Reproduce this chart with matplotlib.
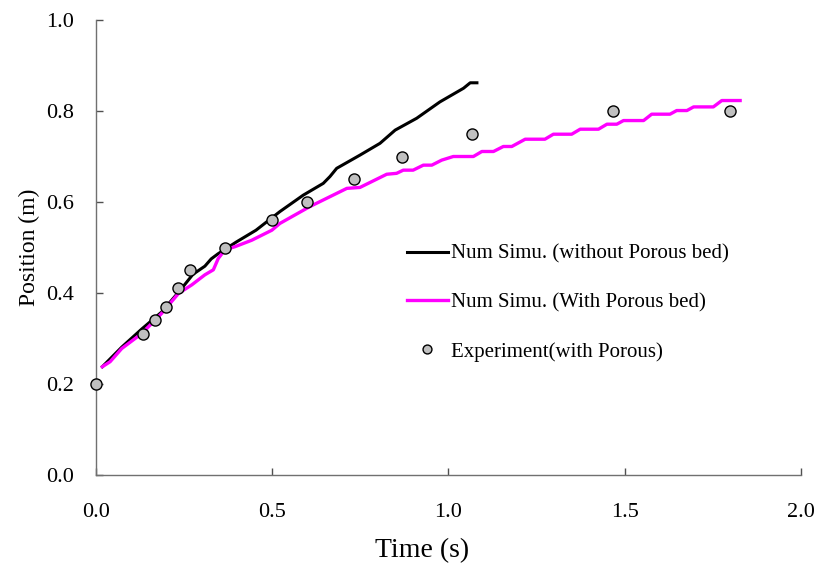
import matplotlib
matplotlib.use("Agg")
import matplotlib.pyplot as plt

# Numerical simulation without porous bed
t_no_bed = [0.018, 0.073, 0.130, 0.186, 0.242, 0.275, 0.309, 0.327, 0.346, 0.398,
            0.454, 0.522, 0.588, 0.645, 0.664, 0.683, 0.749, 0.806, 0.849, 0.91,
            0.976, 1.043, 1.062, 1.081]
x_no_bed = [0.238, 0.281, 0.321, 0.358, 0.409, 0.441, 0.459, 0.475, 0.486, 0.512,
            0.538, 0.579, 0.615, 0.641, 0.656, 0.674, 0.703, 0.729, 0.758, 0.784,
            0.820, 0.850, 0.862, 0.862]

# Numerical simulation with porous bed
t_bed = [0.018, 0.040, 0.073, 0.130, 0.186, 0.234, 0.272, 0.309, 0.333, 0.347,
         0.366, 0.395, 0.442, 0.499, 0.522, 0.607, 0.712, 0.749, 0.825, 0.853,
         0.872, 0.900, 0.929, 0.953, 0.981, 1.014, 1.071, 1.095, 1.128, 1.156,
         1.180, 1.218, 1.274, 1.298, 1.350, 1.374, 1.426, 1.450, 1.478, 1.497,
         1.554, 1.577, 1.629, 1.648, 1.677, 1.696, 1.752, 1.776, 1.828]
x_bed = [0.238, 0.249, 0.278, 0.311, 0.355, 0.399, 0.418, 0.440, 0.451, 0.476,
         0.495, 0.502, 0.516, 0.538, 0.553, 0.590, 0.630, 0.632, 0.661, 0.663,
         0.670, 0.670, 0.681, 0.681, 0.692, 0.700, 0.700, 0.711, 0.711, 0.722,
         0.722, 0.738, 0.738, 0.749, 0.749, 0.760, 0.760, 0.771, 0.771, 0.779,
         0.779, 0.793, 0.793, 0.801, 0.801, 0.809, 0.809, 0.823, 0.823]

# Experiment (with porous bed)
t_exp = [0.0, 0.133, 0.167, 0.2, 0.233, 0.267, 0.367, 0.5, 0.6, 0.733, 0.867,
         1.067, 1.467, 1.8]
x_exp = [0.2, 0.31, 0.34, 0.37, 0.41, 0.45, 0.50, 0.56, 0.60, 0.65, 0.70,
         0.75, 0.80, 0.80]

x_ticks = [0.0, 0.5, 1.0, 1.5, 2.0]
y_ticks = [0.0, 0.2, 0.4, 0.6, 0.8, 1.0]

plt.rcParams['font.family'] = ['Liberation Serif', 'DejaVu Serif']

fig = plt.figure(figsize=(8.15, 5.68), dpi=100)
ax = fig.add_axes([0.1178, 0.1637, 0.8647, 0.8011])

ax.plot(t_no_bed, x_no_bed, color='black', lw=2.2,
        label='Num Simu. (without Porous bed)')
ax.plot(t_bed, x_bed, color='#FF00FF', lw=2.4,
        label='Num Simu. (With Porous bed)')
ax.plot(t_exp, x_exp, linestyle='none', marker='o', markersize=8,
        markerfacecolor='#C0C0C0', markeredgecolor='black',
        markeredgewidth=1.0, clip_on=False, zorder=5,
        label='Experiment(with Porous)')

ax.set_xlim(0, 2.0)
ax.set_ylim(0, 1.0)
ax.set_xticks(x_ticks)
ax.set_yticks(y_ticks)
ax.set_xticklabels([f'{v:.1f}' for v in x_ticks])
ax.set_yticklabels([f'{v:.1f}' for v in y_ticks])

for side in ('top', 'right'):
    ax.spines[side].set_visible(False)
for side in ('left', 'bottom'):
    ax.spines[side].set_color('#707070')
    ax.spines[side].set_linewidth(1.0)

ax.tick_params(axis='both', direction='in', length=5, width=1.0,
               color='#505050', labelsize=16)
ax.tick_params(axis='x', pad=20)
ax.tick_params(axis='y', pad=16)

ax.set_xlabel('Time (s)', fontsize=20)
ax.xaxis.set_label_coords(0.463, -0.138)
ax.set_ylabel('Position (m)', fontsize=17)
ax.yaxis.set_label_coords(-0.079, 0.5)

leg = ax.legend(loc='upper left', bbox_to_anchor=(0.426, 0.530),
                frameon=False, fontsize=15, labelspacing=1.4,
                handlelength=2.0, handletextpad=0.15, markerscale=0.8,
                numpoints=1, borderpad=0)

fig.savefig('out.png', dpi=100)
